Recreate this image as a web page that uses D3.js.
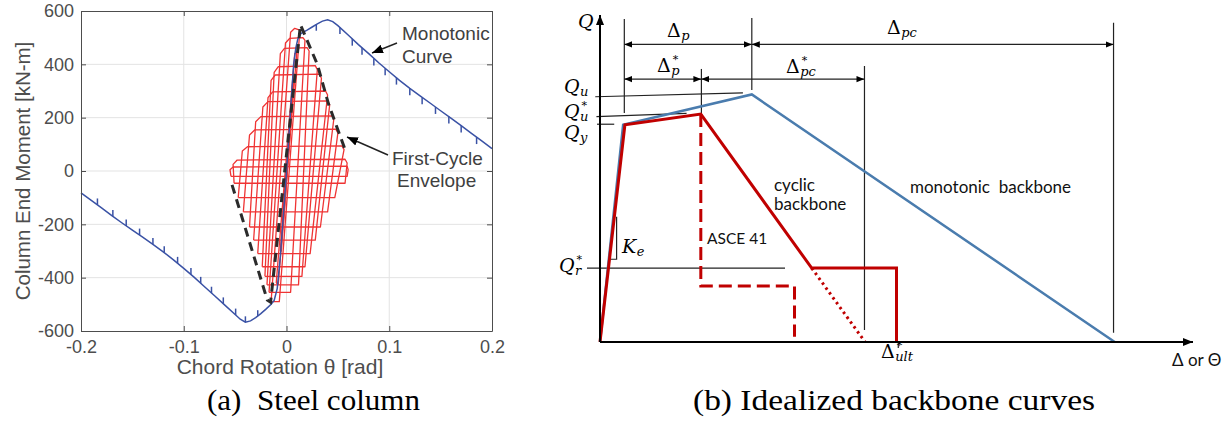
<!DOCTYPE html>
<html>
<head>
  <meta charset="utf-8">
  <title>Steel column hysteresis and idealized backbone curves</title>
  <script src="https://cdn.jsdelivr.net/npm/d3@7"></script>
  <style>
    body{ margin: 0; background: #fff; }
    svg{ display: block; }
  </style>
</head>
<body>
<div id="container"></div>
<script>
  //*******DATA: (a) steel column*******
  // monotonic curve, [rotation rad, moment kN-m]
  const monotonicCurve = [
    [-0.2,-82],[-0.19,-110],[-0.18,-138],[-0.17,-167],[-0.16,-195],[-0.15,-222],[-0.14,-248],
    [-0.13,-275],[-0.12,-303],[-0.11,-333],[-0.1,-365],[-0.09,-398],[-0.08,-433],[-0.07,-468],
    [-0.06,-503],[-0.05,-538],[-0.045,-556],[-0.04,-567],[-0.035,-562],[-0.03,-550],[-0.025,-535],
    [-0.02,-518],[-0.015,-500],[-0.012,-485],[-0.009,-440],[-0.006,-320],[-0.003,-165],[0,0],
    [0.003,170],[0.005,290],[0.007,400],[0.009,460],[0.011,495],[0.014,515],[0.02,528],[0.025,540],
    [0.03,552],[0.035,562],[0.04,567],[0.045,560],[0.05,545],[0.06,510],[0.07,474],[0.08,440],
    [0.09,405],[0.1,372],[0.11,340],[0.12,310],[0.13,282],[0.14,254],[0.15,226],[0.16,198],
    [0.17,170],[0.18,141],[0.19,113],[0.2,84]
  ];
  // little unload/reload spikes on the monotonic curve, [rotation, base moment, tip moment]
  const monotonicSpikes = [
    [-0.184,-127,-103],[-0.169,-170,-146],[-0.156,-206,-182],[-0.143,-240,-216],[-0.13,-275,-251],
    [-0.119,-306,-282],[-0.106,-346,-322],[-0.093,-388,-364],[-0.0835,-421,-397],[-0.073,-458,-434],
    [-0.0615,-498,-474],[-0.0495,-540,-516],[-0.04,-567,-545],[-0.028,-544,-522],
    [0.029,550,526],[0.052,538,514],[0.064,496,470],[0.0735,462,436],[0.085,422,396],[0.096,385,359],
    [0.107,350,324],[0.12,310,284],[0.132,276,250],[0.145,240,214],[0.158,204,178],[0.17,170,144],
    [0.185,127,101]
  ];
  // cyclic loops (corner points), small elastic cycles first
  const hysteresisLoops = [
    [[-0.004,-190],[0.004,215],[0.005,220],[-0.003,-195],[-0.004,-190]],
    [[-0.006,-300],[0.006,330],[0.007,330],[-0.005,-300],[-0.006,-300]],
    [[-0.010,-420],[0.008,440],[0.010,445],[-0.008,-425],[-0.010,-420]],
    [[-0.015,-490],[0.004,520],[0.008,535],[0.013,528],[-0.007,-490],[-0.015,-490]],
    [[-0.017,-455],[-0.001,480],[0.003,497],[0.016,500],[0.018,490],[0.004,-455],[-0.017,-455]],
    [[-0.019,-427],[-0.006,440],[-0.002,460],[0.020,463],[0.022,450],[0.0117,-427],[-0.019,-427]],
    [[-0.021,-395],[-0.012,370],[-0.008,391],[0.028,395],[0.030,380],[0.015,-395],[-0.021,-395]],
    [[-0.0236,-359],[-0.015,340],[-0.011,360],[0.032,363],[0.034,348],[0.018,-359],[-0.0236,-359]],
    [[-0.028,-310],[-0.018,275],[-0.0135,297],[0.038,300],[0.040,285],[0.023,-310],[-0.028,-310]],
    [[-0.032,-259],[-0.023,240],[-0.018,260],[0.040,263],[0.042,248],[0.028,-259],[-0.032,-259]],
    [[-0.036,-210],[-0.030,185],[-0.025,204],[0.044,207],[0.046,193],[0.033,-210],[-0.036,-210]],
    [[-0.042,-153],[-0.036,135],[-0.031,154],[0.048,157],[0.050,143],[0.040,-153],[-0.042,-153]],
    [[-0.047,-100],[-0.043,75],[-0.038,91],[0.054,94],[0.056,80],[0.047,-100],[-0.047,-100]],
    [[-0.051,-46],[-0.052,25],[-0.048,41],[0.057,44],[0.059,30],[0.057,-46],[-0.051,-46]],
    [[-0.054,-20],[-0.055,5],[-0.052,15],[0.059,18],[0.060,5],[0.059,-20],[-0.054,-20]]
  ];
  const firstCycleEnvelope = [
    [-0.053,-52],[-0.0187,-484],[-0.0155,-492],[0.0136,548],[0.030,400],[0.041,250],[0.058,70]
  ];
  const rotationTicks = [-0.2,-0.1,0,0.1,0.2];
  const momentTicks = [-600,-400,-200,0,200,400,600];

  //*******DATA: (b) idealized backbones (normalised units)*******
  const monotonicBackbone = [[0,0],[0.39,6.64],[2.56,7.57],[8.68,0]];
  const cyclicBackbone = [[0,0],[0.42,6.64],[1.70,6.97],[3.57,2.26],[5.00,2.26],[5.00,0]];
  const cyclicExtension = [[3.57,2.26],[4.47,0]];
  const asce41Curve = [[1.70,6.97],[1.70,1.71],[3.28,1.71],[3.28,0.16]];
  // vertical extension lines [delta, bottom, top]
  const extensionLines = [[0.41,7.0,9.88],[2.56,7.71,9.91],[1.71,6.97,8.35],[4.46,0.37,8.44],[8.66,0.28,9.76]];
  // dimension arrows [from, to, level]
  const dimensionLines = [[0.41,2.56,9.1],[2.56,8.66,9.1],[0.41,1.71,8.04],[1.71,4.46,8.04]];
  const forceLevelLines = [
    [[-0.08,7.50],[2.41,7.62]],
    [[-0.06,6.89],[1.46,6.99]],
    [[-0.05,6.66],[0.24,6.66]],
    [[-0.22,2.26],[3.12,2.26]]
  ];
  const stiffnessTriangle = [[0.16,2.53],[0.28,2.53],[0.28,3.83]];

  //*******SVG*******
  const width = 1232, height = 423;
  const svg = d3.select("#container").append("svg")
    .attr("width", width).attr("height", height)
    .style("background", "#fff");

  const defs = svg.append("defs");
  function addArrow(id, size){
    defs.append("marker")
      .attr("id", id).attr("viewBox", "0 0 10 10")
      .attr("refX", 10).attr("refY", 5)
      .attr("markerWidth", size).attr("markerHeight", size)
      .attr("markerUnits", "userSpaceOnUse")
      .attr("orient", "auto-start-reverse")
      .append("path").attr("d", "M0,1 L10,5 L0,9 Z").attr("fill", "#000");
  }
  addArrow("arrowNote", 11);
  addArrow("arrowDim", 8);
  addArrow("arrowAxis", 10);

  //*******LEFT PANEL*******
  const x = d3.scaleLinear().domain([-0.2, 0.2]).range([81, 492]);
  const y = d3.scaleLinear().domain([-600, 600]).range([331, 11]);
  const left = svg.append("g");
  const sans = "'Liberation Sans', Arial, sans-serif";
  const axisGray = "#4d4d4d";

  // grid
  left.selectAll(".vgrid").data(rotationTicks.slice(1, -1)).enter().append("line")
    .attr("x1", d => x(d)).attr("x2", d => x(d)).attr("y1", y(600)).attr("y2", y(-600))
    .attr("stroke", "#e3e3e3").attr("stroke-width", 1);
  left.selectAll(".hgrid").data(momentTicks.slice(1, -1)).enter().append("line")
    .attr("x1", x(-0.2)).attr("x2", x(0.2)).attr("y1", d => y(d)).attr("y2", d => y(d))
    .attr("stroke", "#e3e3e3").attr("stroke-width", 1);

  const lineXY = d3.line().x(d => x(d[0])).y(d => y(d[1]));

  // hysteresis loops
  left.selectAll(".loop").data(hysteresisLoops).enter().append("path")
    .attr("d", lineXY).attr("fill", "none")
    .attr("stroke", "#ef3434").attr("stroke-width", 1.3).attr("stroke-linejoin", "round");

  // monotonic curve
  left.append("path").attr("d", lineXY(monotonicCurve)).attr("fill", "none")
    .attr("stroke", "#3a52a5").attr("stroke-width", 1.5);
  left.selectAll(".spike").data(monotonicSpikes).enter().append("line")
    .attr("x1", d => x(d[0])).attr("x2", d => x(d[0]))
    .attr("y1", d => y(d[1])).attr("y2", d => y(d[2]))
    .attr("stroke", "#3a52a5").attr("stroke-width", 1.5);

  // first cycle envelope
  left.append("path").attr("d", lineXY(firstCycleEnvelope)).attr("fill", "none")
    .attr("stroke", "#2b2b2b").attr("stroke-width", 3).attr("stroke-dasharray", "9,6");

  // axes, MATLAB style: ticks inside and a full box
  function styleAxis(g){
    g.selectAll("path").attr("stroke", axisGray);
    g.selectAll("line").attr("stroke", axisGray);
    g.selectAll("text").attr("fill", axisGray).attr("font-family", sans).attr("font-size", 18);
  }
  const fmtX = d => d === 0 ? "0" : d3.format(".1f")(d).replace("−", "-");
  left.append("g").attr("transform", `translate(0,${y(-600)})`)
    .call(d3.axisBottom(x).tickValues(rotationTicks).tickSize(-5).tickSizeOuter(0).tickPadding(9).tickFormat(fmtX))
    .call(styleAxis);
  left.append("g").attr("transform", `translate(0,${y(600)})`)
    .call(d3.axisTop(x).tickValues(rotationTicks).tickSize(-5).tickSizeOuter(0).tickFormat(""))
    .call(styleAxis);
  left.append("g").attr("transform", `translate(${x(-0.2)},0)`)
    .call(d3.axisLeft(y).tickValues(momentTicks).tickSize(-5).tickSizeOuter(0).tickPadding(7).tickFormat(d => String(d)))
    .call(styleAxis);
  left.append("g").attr("transform", `translate(${x(0.2)},0)`)
    .call(d3.axisRight(y).tickValues(momentTicks).tickSize(-5).tickSizeOuter(0).tickFormat(""))
    .call(styleAxis);

  left.append("text").attr("transform", "translate(30,171) rotate(-90)")
    .attr("text-anchor", "middle").attr("font-family", sans).attr("font-size", 20.5)
    .attr("fill", axisGray).text("Column End Moment [kN-m]");
  left.append("text").attr("x", 280).attr("y", 374)
    .attr("text-anchor", "middle").attr("font-family", sans).attr("font-size", 21)
    .attr("fill", axisGray).text("Chord Rotation θ [rad]");

  // annotations
  const note = left.append("g").attr("font-family", sans).attr("font-size", 19).attr("fill", "#404040");
  note.append("text").attr("x", 402).attr("y", 40).text("Monotonic");
  note.append("text").attr("x", 402).attr("y", 63).text("Curve");
  note.append("text").attr("x", 392).attr("y", 165).text("First-Cycle");
  note.append("text").attr("x", 397).attr("y", 187).text("Envelope");
  left.append("line").attr("x1", 397).attr("y1", 43).attr("x2", 372).attr("y2", 53)
    .attr("stroke", "#222").attr("stroke-width", 1.5).attr("marker-end", "url(#arrowNote)");
  left.append("line").attr("x1", 388).attr("y1", 155).attr("x2", 347).attr("y2", 137)
    .attr("stroke", "#222").attr("stroke-width", 1.5).attr("marker-end", "url(#arrowNote)");

  //*******RIGHT PANEL*******
  const xr = d3.scaleLinear().domain([0, 10]).range([600, 1193]);
  const yr = d3.scaleLinear().domain([0, 10]).range([342, 15]);
  const right = svg.append("g");
  const lineR = d3.line().x(d => xr(d[0])).y(d => yr(d[1]));

  // thin reference lines
  right.selectAll(".ext").data(extensionLines).enter().append("line")
    .attr("x1", d => xr(d[0])).attr("x2", d => xr(d[0]))
    .attr("y1", d => yr(d[1])).attr("y2", d => yr(d[2]))
    .attr("stroke", "#222").attr("stroke-width", 1.2);
  right.selectAll(".dim").data(dimensionLines).enter().append("line")
    .attr("x1", d => xr(d[0])).attr("x2", d => xr(d[1]))
    .attr("y1", d => yr(d[2])).attr("y2", d => yr(d[2]))
    .attr("stroke", "#222").attr("stroke-width", 1.2)
    .attr("marker-start", "url(#arrowDim)").attr("marker-end", "url(#arrowDim)");
  right.selectAll(".level").data(forceLevelLines).enter().append("path")
    .attr("d", lineR).attr("fill", "none").attr("stroke", "#222").attr("stroke-width", 1.2);
  right.append("path").attr("d", lineR(stiffnessTriangle)).attr("fill", "none")
    .attr("stroke", "#222").attr("stroke-width", 1.2);
  right.append("line").attr("x1", xr(5.03)).attr("x2", xr(5.03)).attr("y1", yr(0)).attr("y2", yr(-0.18))
    .attr("stroke", "#222").attr("stroke-width", 1.2);

  // curves
  right.append("path").attr("d", lineR(monotonicBackbone)).attr("fill", "none")
    .attr("stroke", "#4a7cae").attr("stroke-width", 2.5);
  right.append("path").attr("d", lineR(asce41Curve)).attr("fill", "none")
    .attr("stroke", "#c00000").attr("stroke-width", 3).attr("stroke-dasharray", "13,6");
  right.append("path").attr("d", lineR(cyclicExtension)).attr("fill", "none")
    .attr("stroke", "#c00000").attr("stroke-width", 3).attr("stroke-dasharray", "2.5,3.5");
  right.append("path").attr("d", lineR(cyclicBackbone)).attr("fill", "none")
    .attr("stroke", "#c00000").attr("stroke-width", 3).attr("stroke-linejoin", "miter");

  // axes with arrows
  right.append("line").attr("x1", xr(0)).attr("y1", yr(0)).attr("x2", xr(0)).attr("y2", yr(10))
    .attr("stroke", "#000").attr("stroke-width", 2).attr("marker-end", "url(#arrowAxis)");
  right.append("line").attr("x1", xr(0)).attr("y1", yr(0)).attr("x2", xr(10)).attr("y2", yr(0))
    .attr("stroke", "#000").attr("stroke-width", 2).attr("marker-end", "url(#arrowAxis)");

  // math labels: one text per symbol, subscript and stacked star as tspans
  const serif = "'DejaVu Serif', serif";
  function mathLabel(px, py, main, italic, sub, star){
    const t = right.append("text").attr("x", px).attr("y", py)
      .attr("font-family", serif).attr("font-size", 19);
    const m = t.append("tspan").attr("font-style", italic ? "italic" : "normal").text(main);
    const w = m.node().getComputedTextLength();
    if (sub) t.append("tspan").attr("x", px + w + 0.5).attr("y", py + 3)
      .attr("font-size", 13).attr("font-style", "italic").text(sub);
    if (star) t.append("tspan").attr("x", px + w + 2).attr("y", py - 9)
      .attr("font-size", 11).text("*");
  }
  mathLabel(578, 28, "Q", true);
  mathLabel(667, 37, "Δ", false, "p");
  mathLabel(887, 34, "Δ", false, "pc");
  mathLabel(657, 72, "Δ", false, "p", true);
  mathLabel(786, 73, "Δ", false, "pc", true);
  mathLabel(564, 93, "Q", true, "u");
  mathLabel(564, 118, "Q", true, "u", true);
  mathLabel(564, 139, "Q", true, "y");
  mathLabel(559, 272, "Q", true, "r", true);
  mathLabel(622, 253, "K", true, "e");
  mathLabel(881, 358, "Δ", false, "ult", true);

  const plain = right.append("g").attr("font-family", "Lato, 'Open Sans', sans-serif").attr("font-size", 17).attr("fill", "#111");
  plain.append("text").attr("x", 774).attr("y", 191).text("cyclic");
  plain.append("text").attr("x", 774).attr("y", 210).text("backbone");
  plain.append("text").attr("x", 707).attr("y", 244).attr("font-size", 15.5).text("ASCE 41");
  plain.append("text").attr("x", 910).attr("y", 193).style("white-space", "pre").text("monotonic  backbone");
  plain.append("text").attr("x", 1172).attr("y", 366).text("Δ or Θ");

  //*******CAPTIONS*******
  const captionFont = "'Liberation Serif', 'Times New Roman', serif";
  svg.append("text").attr("x", 207).attr("y", 410)
    .attr("font-family", captionFont).attr("font-size", 30).attr("fill", "#000")
    .style("white-space", "pre")
    .attr("textLength", 213).attr("lengthAdjust", "spacingAndGlyphs")
    .text("(a)  Steel column");
  svg.append("text").attr("x", 693).attr("y", 410)
    .attr("font-family", captionFont).attr("font-size", 30).attr("fill", "#000")
    .attr("textLength", 402).attr("lengthAdjust", "spacingAndGlyphs")
    .text("(b) Idealized backbone curves");
</script>
</body>
</html>
